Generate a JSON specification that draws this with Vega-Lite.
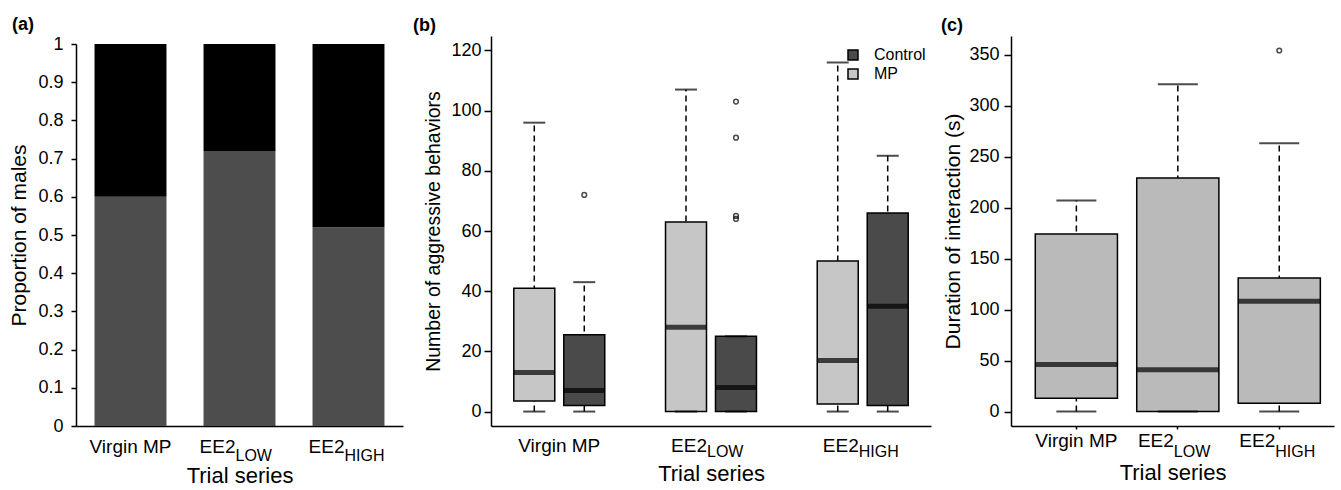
{
  "$schema": "https://vega.github.io/schema/vega-lite/v6.json",
  "background": "white",
  "padding": {"left": 8, "top": 16, "right": 2, "bottom": 0},
  "spacing": 9,
  "resolve": {"scale": {"color": "independent"}, "legend": {"color": "independent"}},
  "config": {
    "view": {"stroke": null},
    "font": "Liberation Sans",
    "axis": {"grid": false, "domainColor": "black", "tickColor": "black", "labelColor": "black", "titleColor": "black", "labelFont": "Liberation Sans", "titleFont": "Liberation Sans", "titleFontWeight": "normal", "domainWidth": 1.5, "tickWidth": 1.5},
    "title": {"anchor": "start", "frame": "bounds", "fontSize": 18, "fontWeight": "bold", "font": "Liberation Sans", "offset": 1, "color": "black"},
    "legend": {"labelFont": "Liberation Sans", "labelColor": "black"}
  },
  "hconcat": [
    {
      "title": {"text": "(a)", "dx": 3},
      "width": 327,
      "height": 390,
      "data": {"values": [
        {"series": "Virgin MP", "males": 0.6},
        {"series": "EE2LOW", "males": 0.72},
        {"series": "EE2HIGH", "males": 0.52}
      ]},
      "encoding": {
        "y": {"field": "males", "type": "quantitative",
          "scale": {"domain": [0, 1], "range": [390, 8]},
          "axis": {"values": [0, 0.1, 0.2, 0.3, 0.4, 0.5, 0.6, 0.7, 0.8, 0.9, 1], "format": "~g", "labelOverlap": false, "title": "Proportion of males", "titleFontSize": 21, "labelFontSize": 18, "tickSize": 5, "labelPadding": 8, "titlePadding": 8}}
      },
      "layer": [
        {
          "mark": {"type": "bar", "color": "#4d4d4d"},
          "encoding": {
            "x": {"field": "series", "type": "nominal", "sort": null,
              "scale": {"paddingInner": 0.34, "paddingOuter": 0.17},
              "axis": {"orient": "bottom", "title": "Trial series", "titleFontSize": 22, "titlePadding": 9, "labelFontSize": 19, "labelAngle": 0, "ticks": false, "labelPadding": 11, "labelOverlap": false,
                "labelExpr": "datum.value == 'Virgin MP' ? 'Virgin MP' : 'EE2'",
                "labelAlign": {"condition": {"test": "datum.value == 'Virgin MP'", "value": "center"}, "value": "right"},
                "labelOffset": {"condition": {"test": "datum.value == 'Virgin MP'", "value": 0}, "value": -4}}}
          }
        },
        {
          "mark": {"type": "bar", "color": "black"},
          "encoding": {
            "x": {"field": "series", "type": "nominal", "sort": null,
              "axis": {"orient": "bottom", "title": null, "domain": false, "ticks": false, "labelFontSize": 16, "labelPadding": 21, "labelOverlap": false, "labelAngle": 0,
                "labelExpr": "datum.value == 'EE2LOW' ? 'LOW' : datum.value == 'EE2HIGH' ? 'HIGH' : ''",
                "labelAlign": "left", "labelOffset": -4}},
            "y2": {"datum": 1}
          }
        }
      ],
      "resolve": {"axis": {"x": "independent"}}
    },
    {
      "title": {"text": "(b)", "dx": -11},
      "width": 440,
      "height": 390,
      "data": {"values": [
        {"series": "Virgin MP", "group": "MP", "lower": 0, "q1": 3.5, "median": 13, "q3": 41, "upper": 96},
        {"series": "Virgin MP", "group": "Control", "lower": 0, "q1": 2, "median": 7, "q3": 25.5, "upper": 43},
        {"series": "EE2LOW", "group": "MP", "lower": 0, "q1": 0, "median": 28, "q3": 63, "upper": 107},
        {"series": "EE2LOW", "group": "Control", "lower": 0, "q1": 0, "median": 8, "q3": 25, "upper": 25},
        {"series": "EE2HIGH", "group": "MP", "lower": 0, "q1": 2.5, "median": 17, "q3": 50, "upper": 116},
        {"series": "EE2HIGH", "group": "Control", "lower": 0, "q1": 2, "median": 35, "q3": 66, "upper": 85}
      ]},
      "layer": [
        {
          "mark": {"type": "rule", "color": "black", "strokeWidth": 1.5, "strokeDash": [6, 4]},
          "encoding": {
            "x": {"field": "series", "type": "nominal", "sort": ["Virgin MP", "EE2LOW", "EE2HIGH"],
              "scale": {"paddingInner": 0.1, "paddingOuter": 0},
              "axis": {"orient": "bottom", "title": "Trial series", "titleFontSize": 22, "titlePadding": 8, "labelFontSize": 19, "labelAngle": 0, "ticks": false, "labelPadding": 10, "labelOverlap": false,
                "labelExpr": "datum.value == 'Virgin MP' ? 'Virgin MP' : 'EE2'",
                "labelAlign": {"condition": {"test": "datum.value == 'Virgin MP'", "value": "center"}, "value": "right"},
                "labelOffset": {"condition": {"test": "datum.value == 'Virgin MP'", "value": 0}, "value": -4}}},
            "xOffset": {"field": "group", "type": "nominal", "scale": {"domain": ["MP", "Control"], "paddingInner": 0.18, "paddingOuter": 0.456}},
            "y": {"field": "lower", "type": "quantitative",
              "scale": {"domain": [-4.8, 124.8], "nice": false, "zero": false},
              "axis": {"values": [0, 20, 40, 60, 80, 100, 120], "labelOverlap": false, "title": "Number of aggressive behaviors", "titleFontSize": 19.5, "labelFontSize": 18, "tickSize": 7, "labelPadding": 3, "titlePadding": 7}},
            "y2": {"field": "upper"}
          }
        },
        {
          "mark": {"type": "bar", "stroke": "black", "strokeWidth": 1.5},
          "encoding": {
            "x": {"field": "series", "type": "nominal", "sort": ["Virgin MP", "EE2LOW", "EE2HIGH"],
              "axis": {"orient": "bottom", "title": null, "domain": false, "ticks": false, "labelFontSize": 16, "labelPadding": 17, "labelOverlap": false, "labelAngle": 0,
                "labelExpr": "datum.value == 'EE2LOW' ? 'LOW' : datum.value == 'EE2HIGH' ? 'HIGH' : ''",
                "labelAlign": "left", "labelOffset": -4}},
            "xOffset": {"field": "group", "type": "nominal"},
            "y": {"field": "q1", "type": "quantitative"},
            "y2": {"field": "q3"},
            "color": {"field": "group", "type": "nominal",
              "scale": {"domain": ["Control", "MP"], "range": ["#4a4a4a", "#c6c6c6"]},
              "legend": {"title": null, "orient": "none", "legendX": 354, "legendY": 11, "symbolType": "square", "symbolSize": 100, "symbolStrokeColor": "black", "symbolStrokeWidth": 1.5, "labelFontSize": 16, "labelOffset": 13, "rowPadding": 3, "padding": 0}}
          }
        },
        {
          "mark": {"type": "tick", "color": "black", "size": 41, "thickness": 5},
          "encoding": {
            "x": {"field": "series", "type": "nominal", "sort": ["Virgin MP", "EE2LOW", "EE2HIGH"], "axis": null},
            "xOffset": {"field": "group", "type": "nominal"},
            "y": {"field": "median", "type": "quantitative"}
          }
        },
        {
          "mark": {"type": "tick", "color": "black", "size": 22, "thickness": 2},
          "encoding": {
            "x": {"field": "series", "type": "nominal", "sort": ["Virgin MP", "EE2LOW", "EE2HIGH"], "axis": null},
            "xOffset": {"field": "group", "type": "nominal"},
            "y": {"field": "upper", "type": "quantitative"}
          }
        },
        {
          "mark": {"type": "tick", "color": "black", "size": 22, "thickness": 2},
          "encoding": {
            "x": {"field": "series", "type": "nominal", "sort": ["Virgin MP", "EE2LOW", "EE2HIGH"], "axis": null},
            "xOffset": {"field": "group", "type": "nominal"},
            "y": {"field": "lower", "type": "quantitative"}
          }
        },
        {
          "data": {"values": [
            {"series": "Virgin MP", "group": "Control", "value": 72},
            {"series": "EE2LOW", "group": "Control", "value": 64},
            {"series": "EE2LOW", "group": "Control", "value": 65},
            {"series": "EE2LOW", "group": "Control", "value": 91},
            {"series": "EE2LOW", "group": "Control", "value": 103}
          ]},
          "mark": {"type": "point", "shape": "circle", "filled": false, "color": "black", "size": 22, "strokeWidth": 1.5},
          "encoding": {
            "x": {"field": "series", "type": "nominal", "sort": ["Virgin MP", "EE2LOW", "EE2HIGH"], "axis": null},
            "xOffset": {"field": "group", "type": "nominal"},
            "y": {"field": "value", "type": "quantitative"}
          }
        }
      ],
      "resolve": {"axis": {"x": "independent"}}
    },
    {
      "title": {"text": "(c)", "dx": -2},
      "width": 323,
      "height": 390,
      "data": {"values": [
        {"series": "Virgin MP", "lower": 0, "q1": 13, "median": 46, "q3": 174, "upper": 207},
        {"series": "EE2LOW", "lower": 0, "q1": 0, "median": 41, "q3": 229, "upper": 321},
        {"series": "EE2HIGH", "lower": 0, "q1": 8, "median": 108, "q3": 131, "upper": 263}
      ]},
      "layer": [
        {
          "mark": {"type": "rule", "color": "black", "strokeWidth": 1.5, "strokeDash": [6, 4]},
          "encoding": {
            "x": {"field": "series", "type": "nominal", "sort": ["Virgin MP", "EE2LOW", "EE2HIGH"],
              "scale": {"paddingInner": 0.19, "paddingOuter": 0.187, "align": 0.64},
              "axis": {"orient": "bottom", "title": "Trial series", "titleFontSize": 22, "titlePadding": 12, "labelFontSize": 19, "labelAngle": 0, "ticks": true, "tickSize": 3, "labelPadding": 2, "labelOverlap": false,
                "labelExpr": "datum.value == 'Virgin MP' ? 'Virgin MP' : 'EE2'",
                "labelAlign": {"condition": {"test": "datum.value == 'Virgin MP'", "value": "center"}, "value": "right"},
                "labelOffset": {"condition": {"test": "datum.value == 'Virgin MP'", "value": 0}, "value": -4}}},
            "y": {"field": "lower", "type": "quantitative",
              "scale": {"domain": [-14.2, 368.2], "nice": false, "zero": false},
              "axis": {"values": [0, 50, 100, 150, 200, 250, 300, 350], "labelOverlap": false, "title": "Duration of interaction (s)", "titleFontSize": 21, "labelFontSize": 18, "tickSize": 7, "labelPadding": 5, "titlePadding": 5}},
            "y2": {"field": "upper"}
          }
        },
        {
          "mark": {"type": "bar", "stroke": "black", "strokeWidth": 1.5, "color": "#bababa"},
          "encoding": {
            "x": {"field": "series", "type": "nominal", "sort": ["Virgin MP", "EE2LOW", "EE2HIGH"],
              "axis": {"orient": "bottom", "title": null, "domain": false, "ticks": false, "labelFontSize": 16, "labelPadding": 17, "labelOverlap": false, "labelAngle": 0,
                "labelExpr": "datum.value == 'EE2LOW' ? 'LOW' : datum.value == 'EE2HIGH' ? 'HIGH' : ''",
                "labelAlign": "left", "labelOffset": -4}},
            "y": {"field": "q1", "type": "quantitative"},
            "y2": {"field": "q3"}
          }
        },
        {
          "mark": {"type": "tick", "color": "black", "size": 82, "thickness": 5},
          "encoding": {
            "x": {"field": "series", "type": "nominal", "sort": ["Virgin MP", "EE2LOW", "EE2HIGH"], "axis": null},
            "y": {"field": "median", "type": "quantitative"}
          }
        },
        {
          "mark": {"type": "tick", "color": "black", "size": 40, "thickness": 2},
          "encoding": {
            "x": {"field": "series", "type": "nominal", "sort": ["Virgin MP", "EE2LOW", "EE2HIGH"], "axis": null},
            "y": {"field": "upper", "type": "quantitative"}
          }
        },
        {
          "mark": {"type": "tick", "color": "black", "size": 40, "thickness": 2},
          "encoding": {
            "x": {"field": "series", "type": "nominal", "sort": ["Virgin MP", "EE2LOW", "EE2HIGH"], "axis": null},
            "y": {"field": "lower", "type": "quantitative"}
          }
        },
        {
          "data": {"values": [
            {"series": "EE2HIGH", "value": 354}
          ]},
          "mark": {"type": "point", "shape": "circle", "filled": false, "color": "black", "size": 22, "strokeWidth": 1.5},
          "encoding": {
            "x": {"field": "series", "type": "nominal", "sort": ["Virgin MP", "EE2LOW", "EE2HIGH"], "axis": null},
            "y": {"field": "value", "type": "quantitative"}
          }
        }
      ],
      "resolve": {"axis": {"x": "independent"}}
    }
  ]
}
